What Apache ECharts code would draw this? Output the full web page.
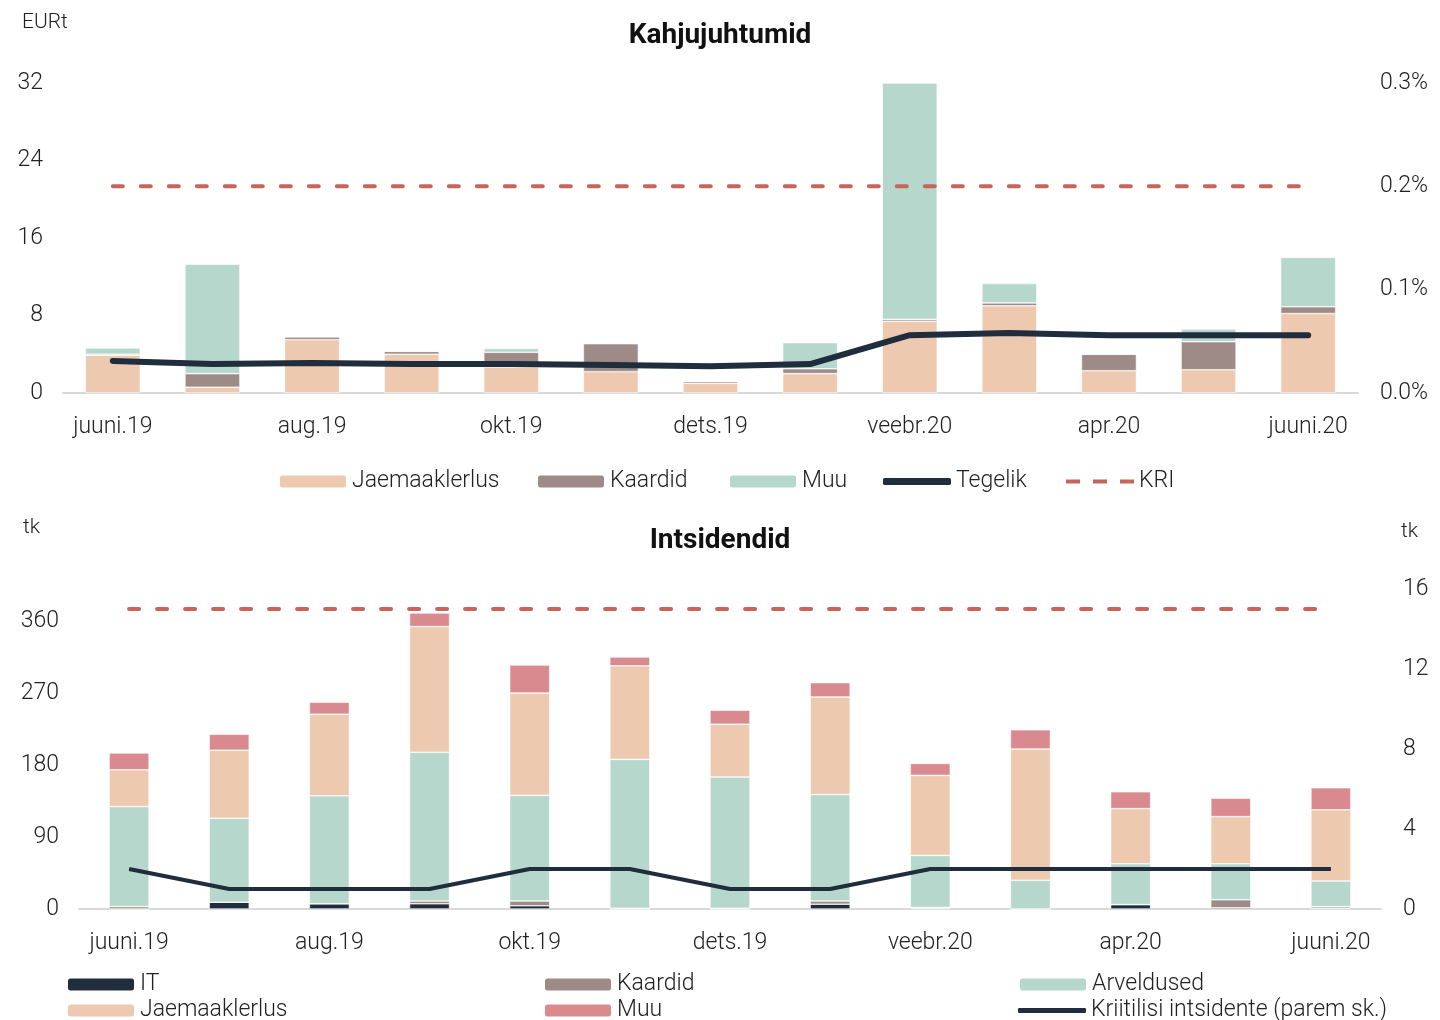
<!DOCTYPE html>
<html>
<head>
<meta charset="utf-8">
<script src="https://cdn.jsdelivr.net/npm/echarts@6/dist/echarts.min.js"></script>
<style>
html,body{margin:0;padding:0;background:#fff;}
#chart{width:1440px;height:1020px;}
</style>
</head>
<body>
<div id="chart"></div>
<script>
// kuud
const months = ['juuni.19','juuli.19','aug.19','sept.19','okt.19','nov.19','dets.19','jaan.20','veebr.20','märts.20','apr.20','mai.20','juuni.20'];

// Kahjujuhtumid (EURt), tegelik/KRI paremal teljel (%)
const kahjuJaem = [3.9, 0.6, 5.5, 4.0, 2.7, 2.2, 1.0, 2.0, 7.4, 9.0, 2.3, 2.4, 8.2];
const kahjuKaardid = [0.1, 1.4, 0.3, 0.3, 1.5, 2.9, 0.2, 0.5, 0.2, 0.3, 1.7, 2.9, 0.7];
const kahjuMuu = [0.65, 11.3, 0, 0, 0.4, 0, 0, 2.7, 24.4, 2.0, 0, 1.3, 5.1];
const kahjuTegelik = [0.031, 0.028, 0.029, 0.028, 0.028, 0.027, 0.026, 0.028, 0.056, 0.058, 0.056, 0.056, 0.056];
const kahjuKri = [0.2, 0.2, 0.2, 0.2, 0.2, 0.2, 0.2, 0.2, 0.2, 0.2, 0.2, 0.2, 0.2];

// Intsidendid (tk), kriitilised/KRI paremal teljel
const intsIT = [0, 8.5, 6.5, 6.5, 4, 0, 0, 6, 1, 0, 5.5, 1.5, 1];
const intsKaardid = [3, 0, 0, 3.5, 6, 1, 1, 4, 1, 0, 0, 10, 2];
const intsArv = [125, 105, 135, 186, 132, 186, 164, 133, 65, 36, 51, 45, 32];
const intsJaem = [46, 85, 102, 157, 128, 117, 66, 122, 100, 164, 69, 59, 89];
const intsMuu = [21, 20, 15, 17, 35, 11, 17.5, 18, 15, 24, 21, 23, 27.5];
const intsKriitilised = [2, 1, 1, 1, 2, 2, 1, 1, 2, 2, 2, 2, 2];
const intsKri = [15, 15, 15, 15, 15, 15, 15, 15, 15, 15, 15, 15, 15];

const C = {
  jaem: '#edc9b0',
  kaardid: '#9e8b87',
  teal: '#b6d7cc',
  navy: '#1f2d3d',
  kri: '#c8645a',
  pink: '#d98a8f'
};
const FONT = 'Roboto';
const txt = { color: '#222', fontFamily: FONT, fontSize: 23, fontWeight: 300 };
const DASHES = 'path://M0,0h14v4h-14z M27,0h14v4h-14z M54,0h14v4h-14z';

function barSeries(name, data, color, xi, yi, width) {
  return {
    name: name, type: 'bar', stack: 's' + xi, data: data,
    xAxisIndex: xi, yAxisIndex: yi, barWidth: width,
    itemStyle: { color: color, borderColor: '#fff', borderWidth: 0.6 }
  };
}

// iga legendi kirje eraldi, et asukoht klapiks
function legendItem(item, left, top, h) {
  return {
    left: left, top: top, padding: 0, itemWidth: 68, itemHeight: h || 14,
    textStyle: txt, data: [item]
  };
}

function buildOption() {
  const xAxisBase = {
    type: 'category', data: months,
    axisLine: { lineStyle: { color: '#d9d9d9', width: 2 } },
    axisTick: { show: false },
    axisLabel: Object.assign({ interval: 1, margin: 23 }, txt)
  };
  const yBase = {
    type: 'value', axisLine: { show: false }, axisTick: { show: false }, splitLine: { show: false }
  };
  const small = { color: '#222', fontFamily: FONT, fontSize: 21, fontWeight: 300 };
  return {
    animation: false,
    textStyle: { fontFamily: FONT },
    title: [
      { text: 'Kahjujuhtumid', left: 'center', top: 17, textStyle: { fontFamily: FONT, fontSize: 28, fontWeight: 'bold', color: '#111' } },
      { text: 'Intsidendid', left: 'center', top: 522, textStyle: { fontFamily: FONT, fontSize: 28, fontWeight: 'bold', color: '#111' } },
      { text: 'EURt', left: 17, top: 7, textStyle: small },
      { text: 'tk', left: 18, top: 512, textStyle: small },
      { text: 'tk', left: 1396, top: 516, textStyle: small }
    ],
    legend: [
      legendItem('Jaemaaklerlus', 278, 470),
      legendItem('Kaardid', 536, 470),
      legendItem({ name: 'Muu', itemStyle: { color: C.teal } }, 728, 470),
      legendItem({ name: 'Tegelik', icon: 'roundRect', itemStyle: { color: C.navy } }, 883, 470, 7),
      legendItem({ name: 'KRI', icon: DASHES, itemStyle: { color: C.kri } }, 1066, 470, 4),
      legendItem('IT', 66, 973),
      legendItem('Jaemaaklerlus', 66, 999),
      legendItem('Kaardid', 543, 973),
      legendItem({ name: 'Muu', itemStyle: { color: C.pink } }, 543, 999),
      legendItem('Arveldused', 1018, 973),
      legendItem({ name: 'Kriitilisi intsidente (parem sk.)', icon: 'roundRect', itemStyle: { color: C.navy } }, 1018, 999, 5)
    ],
    grid: [
      { left: 63, right: 82, top: 83, height: 310 },
      { left: 79, right: 59, top: 589, height: 320 }
    ],
    xAxis: [
      Object.assign({ gridIndex: 0 }, xAxisBase),
      Object.assign({ gridIndex: 1 }, xAxisBase)
    ],
    yAxis: [
      Object.assign({ gridIndex: 0, min: 0, max: 32, interval: 8,
        axisLabel: Object.assign({ margin: 20 }, txt) }, yBase),
      Object.assign({ gridIndex: 0, min: 0, max: 0.3, interval: 0.1, position: 'right',
        axisLabel: Object.assign({ margin: 22, formatter: v => v.toFixed(1) + '%' }, txt) }, yBase),
      Object.assign({ gridIndex: 1, min: 0, max: 400, interval: 90,
        axisLabel: Object.assign({ margin: 20, showMaxLabel: false }, txt) }, yBase),
      Object.assign({ gridIndex: 1, min: 0, max: 16, interval: 4, position: 'right',
        axisLabel: Object.assign({ margin: 22 }, txt) }, yBase)
    ],
    series: [
      barSeries('Jaemaaklerlus', kahjuJaem, C.jaem, 0, 0, 55),
      barSeries('Kaardid', kahjuKaardid, C.kaardid, 0, 0, 55),
      barSeries('Muu', kahjuMuu, C.teal, 0, 0, 55),
      {
        name: 'Tegelik', type: 'line', data: kahjuTegelik, xAxisIndex: 0, yAxisIndex: 1,
        symbol: 'none', lineStyle: { color: C.navy, width: 6, cap: 'round' }, itemStyle: { color: C.navy }
      },
      {
        name: 'KRI', type: 'line', data: kahjuKri, xAxisIndex: 0, yAxisIndex: 1,
        symbol: 'none', lineStyle: { color: C.kri, width: 4, type: [10, 18], cap: 'round' }, itemStyle: { color: C.kri }
      },
      barSeries('IT', intsIT, C.navy, 1, 2, 40),
      barSeries('Kaardid', intsKaardid, C.kaardid, 1, 2, 40),
      barSeries('Arveldused', intsArv, C.teal, 1, 2, 40),
      barSeries('Jaemaaklerlus', intsJaem, C.jaem, 1, 2, 40),
      barSeries('Muu', intsMuu, C.pink, 1, 2, 40),
      {
        name: 'Kriitilisi intsidente (parem sk.)', type: 'line', data: intsKriitilised, xAxisIndex: 1, yAxisIndex: 3,
        symbol: 'none', lineStyle: { color: C.navy, width: 4 }, itemStyle: { color: C.navy }
      },
      {
        name: 'KRI ', type: 'line', data: intsKri, xAxisIndex: 1, yAxisIndex: 3,
        symbol: 'none', lineStyle: { color: C.kri, width: 4, type: [10, 18], cap: 'round' }, itemStyle: { color: C.kri }
      }
    ]
  };
}

const myChart = echarts.init(document.getElementById('chart'));
myChart.setOption(buildOption());
window.addEventListener('resize', () => { myChart.resize(); });
</script>
</body>
</html>
